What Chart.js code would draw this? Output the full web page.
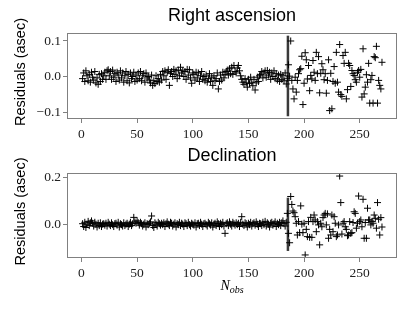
<!DOCTYPE html>
<html>
<head>
<meta charset="utf-8">
<script src="https://cdn.jsdelivr.net/npm/chart.js@4.4.0/dist/chart.umd.min.js"></script>
<style>
  html, body { margin: 0; padding: 0; background: #ffffff; }
  #wrap { position: relative; width: 415px; height: 311px; overflow: hidden; }
  .panel { position: absolute; left: 0; width: 415px; }
</style>
</head>
<body>
<div id="wrap">
  <div class="panel" style="top:0;height:140px"><canvas id="raChart"></canvas></div>
  <div class="panel" style="top:140px;height:171px"><canvas id="decChart"></canvas></div>
</div>
<script>
// residuals in arcsec, one value per observation (N_obs = 1..270)
const raResiduals = [
  -0.006, 0.010, -0.014, 0.016, 0.002, -0.012, 0.006, -0.016, 0.012, -0.002,
  -0.010, 0.014, -0.018, -0.004, -0.022, 0.006, -0.014, 0.008, -0.008, 0.002,
  0.012, -0.008, 0.016, 0.019, 0.002, 0.014, -0.008, 0.018, -0.002, 0.008,
  -0.014, 0.012, 0.004, -0.010, 0.016, -0.004, 0.010, -0.016, 0.002, 0.014,
  -0.012, 0.006, -0.018, 0.010, -0.006, 0.000, 0.012, -0.014, 0.004, -0.010,
  0.010, -0.006, 0.014, -0.012, 0.002, 0.008, -0.016, 0.010, -0.004, 0.000,
  -0.010, -0.018, 0.004, -0.025, -0.012, -0.020, 0.002, -0.014, -0.006, -0.016,
  0.006, -0.010, 0.014, 0.002, 0.016, -0.008, 0.012, 0.019, -0.025, 0.008,
  0.014, 0.000, 0.020, 0.006, 0.016, -0.006, 0.018, 0.002, 0.026, 0.010,
  0.016, 0.000, 0.014, -0.008, 0.020, 0.004, 0.019, -0.004, -0.019, 0.010,
  0.006, -0.010, 0.012, -0.004, 0.010, -0.014, 0.002, 0.014, -0.008, 0.000,
  -0.012, 0.004, -0.016, -0.006, 0.008, -0.014, -0.002, -0.025, 0.002, -0.012,
  -0.006, 0.010, -0.035, -0.014, 0.004, -0.010, 0.012, -0.004, 0.006, 0.014,
  0.018, 0.004, 0.022, 0.008, 0.026, 0.006, 0.031, 0.014, 0.010, 0.024,
  0.031, 0.016, 0.002, -0.008, -0.016, -0.022, -0.006, -0.018, -0.030, -0.008,
  -0.020, -0.002, -0.016, -0.026, -0.008, -0.038, -0.018, -0.002, -0.014, 0.002,
  0.006, 0.014, -0.004, 0.010, 0.016, -0.002, 0.017, 0.004, 0.012, -0.008,
  0.010, 0.000, 0.016, -0.006, 0.008, -0.010, 0.004, -0.014, 0.006, -0.008,
  0.002, -0.012, 0.010, -0.021,
  -0.005, 0.033, 0.001, 0.100, -0.011, -0.035, -0.063, -0.002, -0.044, -0.011,
  0.008, 0.019, 0.022, 0.057, -0.079, -0.019, 0.067, 0.047, -0.007, 0.031,
  -0.040, 0.003, -0.007, 0.045, 0.012, -0.011, 0.068, 0.008, 0.056, -0.046,
  0.009, 0.036, 0.019, -0.009, 0.008, -0.047, -0.011, 0.047, -0.096, 0.009,
  -0.091, -0.014, 0.028, -0.019, 0.068, -0.016, -0.044, 0.090, -0.051, -0.056,
  0.059, 0.037, 0.068, -0.063, -0.037, 0.037, 0.031, -0.028, 0.017, 0.008,
  0.003, -0.009, -0.016, 0.012, 0.017, -0.002, 0.020, -0.058, 0.078, -0.049,
  -0.030, 0.005, -0.016, 0.037, -0.075, -0.009, 0.003, -0.075, 0.056, 0.053,
  0.085, -0.075, -0.011, -0.025, -0.035, 0.040
];
const decResiduals = [
  0.004, -0.008, 0.010, -0.012, 0.002, 0.014, -0.004, 0.008, 0.016, 0.006,
  -0.006, 0.010, 0.002, -0.010, 0.006, -0.004, 0.008, -0.008, 0.002, 0.004,
  -0.002, 0.006, -0.006, 0.010, 0.002, -0.004, 0.008, 0.000, -0.008, 0.004,
  0.006, -0.002, 0.010, -0.010, 0.004, 0.000, -0.006, 0.008, -0.004, 0.002,
  0.006, -0.008, 0.002, 0.010, -0.004, 0.004, 0.031, 0.012, 0.006, 0.016,
  0.008, -0.002, 0.010, 0.004, -0.006, 0.002, 0.008, -0.010, 0.004, 0.000,
  0.006, 0.012, 0.037, -0.004, -0.012, 0.008, 0.002, -0.006, 0.010, 0.004,
  -0.002, 0.006, 0.000, 0.008, -0.008, 0.004, 0.012, 0.002, -0.004, 0.010,
  0.006, -0.006, 0.002, 0.008, -0.010, 0.004, 0.000, 0.010, -0.004, 0.006,
  0.002, -0.008, 0.008, 0.004, -0.004, 0.010, 0.000, -0.006, 0.006, 0.002,
  -0.002, 0.008, -0.010, 0.004, 0.006, -0.004, 0.010, 0.002, -0.008, 0.004,
  0.006, 0.000, -0.006, 0.010, 0.004, -0.002, 0.008, -0.010, 0.002, 0.006,
  -0.004, 0.012, 0.004, -0.008, 0.006, 0.000, 0.010, -0.006, -0.037, 0.004,
  0.008, -0.004, 0.012, 0.002, -0.006, 0.010, 0.004, -0.002, 0.008, 0.000,
  0.006, -0.008, 0.010, 0.034, 0.002, -0.004, 0.008, 0.004, -0.010, 0.006,
  0.000, 0.010, -0.006, 0.004, 0.008, -0.002, 0.012, 0.002, -0.008, 0.006,
  0.004, -0.004, 0.010, 0.000, 0.014, -0.006, 0.008, 0.002, -0.010, 0.006,
  0.010, -0.002, 0.004, 0.012, -0.008, 0.006, 0.000, 0.010, -0.004, 0.008,
  0.016, 0.004, -0.006, 0.010,
  0.048, -0.037, -0.077, 0.120, 0.086, 0.058, 0.051, 0.034, 0.006, -0.044,
  0.013, -0.034, 0.080, 0.002, -0.034, 0.006, -0.129, -0.020, -0.051, 0.013,
  -0.054, 0.031, -0.054, 0.013, 0.041, 0.020, -0.030, 0.013, -0.001, -0.086,
  0.006, -0.009, 0.030, 0.041, 0.048, -0.001, 0.046, -0.058, -0.020, -0.044,
  0.041, -0.030, 0.034, 0.006, -0.051, -0.044, -0.001, 0.207, 0.094, -0.040,
  0.006, 0.013, -0.009, -0.020, -0.047, -0.044, 0.013, -0.037, -0.034, 0.009,
  0.055, 0.048, -0.015, 0.006, 0.122, 0.013, 0.020, -0.009, 0.108, -0.058,
  0.009, -0.058, 0.070, 0.020, 0.020, -0.001, 0.013, 0.006, 0.041, 0.027,
  -0.015, 0.094, 0.023, -0.044, 0.030, -0.010
];
const nObs = raResiduals.map((_, i) => i + 1);
const xTicks = [0, 50, 100, 150, 200, 250];
const raTicks = [-0.1, 0.0, 0.1];
const decTicks = [0.0, 0.2];
const splitObs = 185.5;          // vertical marker
const splitSpan = [-0.112, 0.115];

const frameColor = '#808080';
const tickFont = { family: '"Liberation Serif", serif', size: 13.5 };

function fmtTick(v) {
  return v.toFixed(1).replace('-', '\u2212');
}

// draws title, frame and y-label around the chart area
const decorations = {
  id: 'decorations',
  afterDatasetsDraw(chart, args, opts) {
    const { ctx, chartArea: { top, bottom, left, right } } = chart;
    ctx.save();
    ctx.strokeStyle = frameColor;
    ctx.lineWidth = 1;
    ctx.strokeRect(left + 0.5, top + 0.5, right - left - 1, bottom - top - 1);

    ctx.fillStyle = '#000';
    ctx.textAlign = 'center';
    ctx.textBaseline = 'alphabetic';
    ctx.font = '18px "Liberation Sans", sans-serif';
    ctx.fillText(opts.title, (left + right) / 2, top - 12);

    ctx.save();
    ctx.translate(21, (top + bottom) / 2 - 4);
    ctx.rotate(-Math.PI / 2);
    ctx.textBaseline = 'middle';
    ctx.font = '14.5px "Liberation Sans", sans-serif';
    ctx.fillText('Residuals (asec)', 0, 0);
    ctx.restore();

    if (opts.xLabel) {
      const cx = (left + right) / 2;
      const y = bottom + 32;
      ctx.textAlign = 'left';
      ctx.font = 'italic 14px "Liberation Serif", serif';
      const wN = ctx.measureText('N').width;
      ctx.font = 'italic 10px "Liberation Serif", serif';
      const wSub = ctx.measureText('obs').width;
      const x0 = cx - (wN + wSub) / 2;
      ctx.font = 'italic 14px "Liberation Serif", serif';
      ctx.fillText('N', x0, y);
      ctx.font = 'italic 10px "Liberation Serif", serif';
      ctx.fillText('obs', x0 + wN, y + 3);
    }
    ctx.restore();
  }
};

function makePanel(canvasId, title, values, yTicks, yMin, yMax, xAxisHeight, xLabel) {
  const points = values.map((v, i) => ({ x: nObs[i], y: v }));
  return new Chart(document.getElementById(canvasId), {
    type: 'scatter',
    data: {
      datasets: [{
        data: points,
        pointStyle: 'cross',
        pointRadius: 3.5,
        pointBorderWidth: 1,
        borderColor: '#000',
        backgroundColor: '#000'
      }, {
        type: 'line',
        data: [{ x: splitObs, y: splitSpan[0] }, { x: splitObs, y: splitSpan[1] }],
        borderColor: '#3a3a3a',
        borderWidth: 2.5,
        pointRadius: 0
      }]
    },
    options: {
      responsive: true,
      maintainAspectRatio: false,
      animation: false,
      layout: { padding: { top: 33, right: 18, left: 0, bottom: 0 } },
      plugins: {
        legend: { display: false },
        tooltip: { enabled: false },
        decorations: { title: title, xLabel: xLabel }
      },
      scales: {
        x: {
          type: 'linear',
          min: -13,
          max: 283.5,
          afterBuildTicks: s => { s.ticks = xTicks.map(v => ({ value: v })); },
          afterFit: s => { s.height = xAxisHeight; },
          grid: { drawOnChartArea: false, drawTicks: true, tickLength: 4, color: frameColor },
          border: { display: false },
          ticks: { font: tickFont, color: '#222', padding: 3, maxRotation: 0, autoSkip: false }
        },
        y: {
          min: yMin,
          max: yMax,
          afterBuildTicks: s => { s.ticks = yTicks.map(v => ({ value: v })); },
          afterFit: s => { s.width = 67; },
          grid: { drawOnChartArea: false, drawTicks: true, tickLength: 4, color: frameColor },
          border: { display: false },
          ticks: { font: tickFont, color: '#222', padding: 2, callback: v => fmtTick(v) }
        }
      }
    },
    plugins: [decorations]
  });
}

makePanel('raChart', 'Right ascension', raResiduals, raTicks, -0.1197, 0.1225, 21, false);
makePanel('decChart', 'Declination', decResiduals, decTicks, -0.142, 0.22, 53, true);
</script>
</body>
</html>
